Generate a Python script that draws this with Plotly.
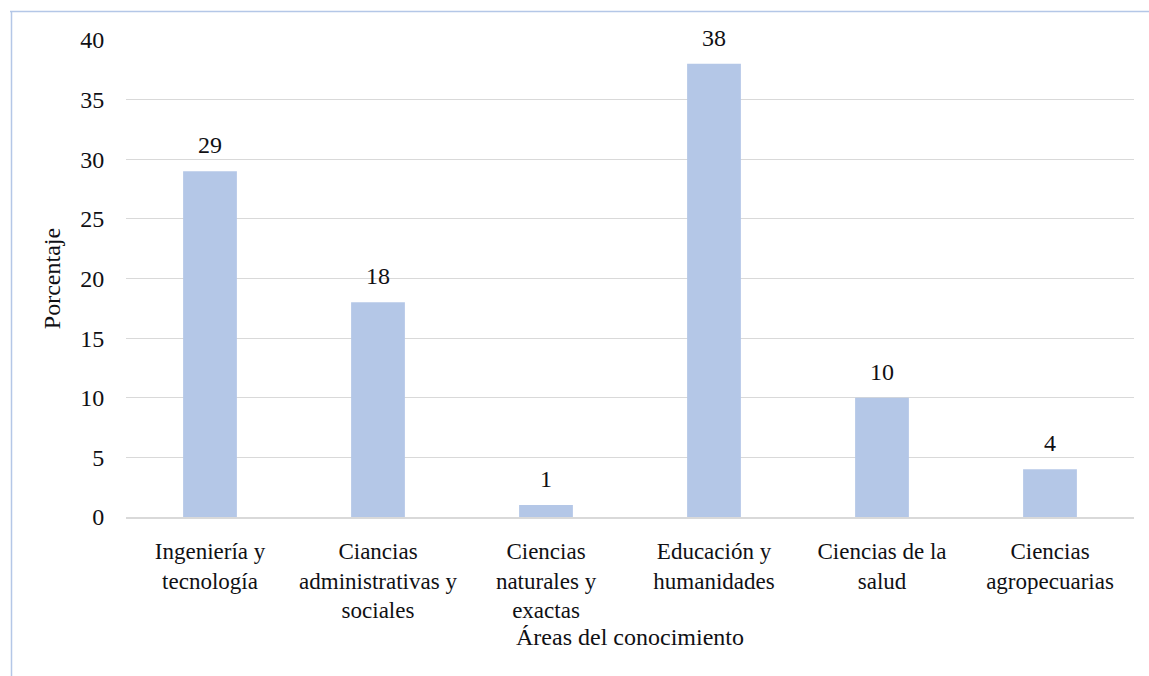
import plotly.graph_objects as go

categories = [
    "Ingeniería y<br>tecnología",
    "Ciancias<br>administrativas y<br>sociales",
    "Ciencias<br>naturales y<br>exactas",
    "Educación y<br>humanidades",
    "Ciencias de la<br>salud",
    "Ciencias<br>agropecuarias",
]
values = [29, 18, 1, 38, 10, 4]
y_ticks = [0, 5, 10, 15, 20, 25, 30, 35, 40]

FONT = "Liberation Serif"
FS = 24
TXT = "#101014"
L, R, T, B = 126, 15, 40, 159
W, H = 1149, 676
pw, ph = W - L - R, H - T - B

fig = go.Figure(go.Bar(
    x=categories, y=values,
    marker=dict(color="#b4c7e7", line=dict(width=0)),
    hoverinfo="x+y",
))

annotations = [
    dict(x=c, y=v, xref="x", yref="y", text=str(v), showarrow=False,
         yanchor="bottom", yshift=11, font=dict(family=FONT, size=FS, color=TXT))
    for c, v in zip(categories, values)
]

def px2x(p):
    return (p - L) / pw

def px2y(p):
    return (H - B - p) / ph

fig.update_layout(
    width=W, height=H,
    margin=dict(l=L, r=R, t=T, b=B),
    paper_bgcolor="white", plot_bgcolor="white",
    bargap=0.68,
    showlegend=False,
    font=dict(family=FONT, size=FS, color=TXT),
    annotations=annotations,
    xaxis=dict(
        showgrid=False, showline=True, linecolor="#d9d9d9", linewidth=2,
        ticks="outside", ticklen=12, tickcolor="rgba(0,0,0,0)",
        tickfont=dict(family=FONT, size=23, color=TXT),
        title=dict(text="Áreas del conocimiento", font=dict(family=FONT, size=FS, color=TXT), standoff=6),
        zeroline=False,
    ),
    yaxis=dict(
        range=[0, 40], tickvals=y_ticks, showgrid=True, gridcolor="#d9d9d9", gridwidth=1,
        zeroline=False, showline=False,
        ticks="outside", ticklen=16, tickcolor="rgba(0,0,0,0)",
        tickfont=dict(family=FONT, size=FS, color=TXT),
        title=dict(text="Porcentaje", font=dict(family=FONT, size=FS, color=TXT), standoff=12),
    ),
    shapes=[
        dict(type="line", xref="paper", yref="paper", x0=px2x(10), x1=px2x(W), y0=px2y(11.5), y1=px2y(11.5),
             line=dict(color="#b4c7e7", width=1.5)),
        dict(type="line", xref="paper", yref="paper", x0=px2x(11.5), x1=px2x(11.5), y0=px2y(11), y1=px2y(H),
             line=dict(color="#b4c7e7", width=1.5)),
    ],
)

fig.write_html("out.html")
